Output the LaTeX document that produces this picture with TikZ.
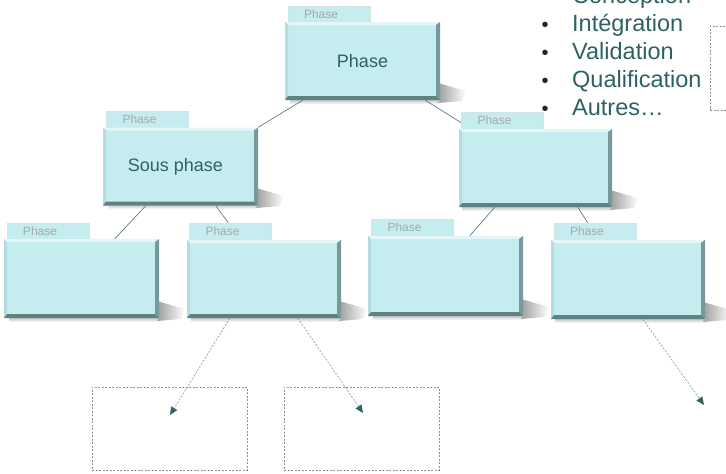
\documentclass[tikz,border=0pt]{standalone}
\usepackage{fontspec}
\setmainfont{Liberation Sans}
\usetikzlibrary{calc,arrows.meta,fadings}
\definecolor{boxfill}{HTML}{C5ECEE}
\definecolor{edgedark}{HTML}{5E8182}
\definecolor{edgeright}{HTML}{769A9B}
\definecolor{toplight}{HTML}{E4F6F7}
\definecolor{leftedge}{HTML}{B3DDE0}
\definecolor{tabline}{HTML}{D3E4E5}
\definecolor{textteal}{HTML}{2E6262}
\definecolor{linecol}{HTML}{5E7E7E}
\definecolor{dashcol}{HTML}{8A9494}
\definecolor{arrowcol}{HTML}{2E6464}
\definecolor{tabtext}{HTML}{A6AAAA}
\tikzset{
  body/.style={rectangle, inner sep=0pt, minimum width=155pt, minimum height=78pt,
    fill=boxfill, text=textteal, font=\fontsize{18}{20}\selectfont,
    path picture={
      \fill[toplight] (path picture bounding box.north west) -- (path picture bounding box.north east)
        -- ([xshift=-4pt,yshift=-3pt]path picture bounding box.north east)
        -- ([xshift=3pt,yshift=-3pt]path picture bounding box.north west) -- cycle;
      \fill[leftedge] (path picture bounding box.north west) -- (path picture bounding box.south west)
        -- ([xshift=3pt,yshift=4pt]path picture bounding box.south west)
        -- ([xshift=3pt,yshift=-3pt]path picture bounding box.north west) -- cycle;
      \fill[edgeright] (path picture bounding box.north east) -- (path picture bounding box.south east)
        -- ([xshift=-4pt,yshift=4pt]path picture bounding box.south east)
        -- ([xshift=-4pt,yshift=-3pt]path picture bounding box.north east) -- cycle;
      \fill[edgedark] (path picture bounding box.south west) -- (path picture bounding box.south east)
        -- ([xshift=-4pt,yshift=4pt]path picture bounding box.south east)
        -- ([xshift=3pt,yshift=4pt]path picture bounding box.south west) -- cycle;
    }},
  tab/.style={rectangle, inner ysep=0pt, inner xsep=16pt, text width=50pt, align=left,
    minimum height=17pt, fill=boxfill, draw=tabline, line width=0.6pt,
    text=tabtext, font=\fontsize{12}{12}\selectfont},
  shade/.style={fill=black!38, path fading=east},
  conn/.style={draw=linecol, line width=0.7pt},
  dashconn/.style={draw=dashcol, line width=0.6pt, dash pattern=on 2pt off 1.5pt,
    -{Triangle[length=8pt,width=7pt,fill=arrowcol,color=arrowcol]}},
  dashbox/.style={draw=dashcol, line width=0.6pt, dash pattern=on 2pt off 1.5pt},
  bullettext/.style={text=textteal, font=\fontsize{23.5}{25}\selectfont, inner sep=0pt},
  bulletdot/.style={text=black!85, font=\fontsize{20}{24}\selectfont, inner sep=0pt}
}
\begin{document}
\begin{tikzpicture}[x=1pt,y=-1pt]
\useasboundingbox (0,0) rectangle (726,474);
\clip (0,0) rectangle (726,474);

% tabs
\node[tab] (At) at (329,14.5) {Phase};
\node[tab] (Bt) at (147.5,119.5) {Phase};
\node[tab] (Ct) at (502.5,120.5) {Phase};
\node[tab] (Dt) at (48,231.5) {Phase};
\node[tab] (Et) at (230.5,231.5) {Phase};
\node[tab] (Ft) at (412.5,227.5) {Phase};
\node[tab] (Gt) at (595,231.5) {Phase};

% shadow anchors (bottom right corners of the boxes)
\coordinate (As) at (440,100);
\coordinate (Bs) at (258,205);
\coordinate (Cs) at (612,207);
\coordinate (Ds) at (159,318);
\coordinate (Es) at (341,318);
\coordinate (Fs) at (523,316);
\coordinate (Gs) at (705,319);
\foreach \s in {As,Bs,Cs,Ds,Es,Fs,Gs}{
  \fill[shade] ($(\s)+(-2,-17)$) -- ($(\s)+(26,-9)$) -- ($(\s)+(22,1)$) -- ($(\s)+(-2,3)$) -- cycle;
  \fill[black!22, path fading=south] ($(\s)+(-150,0)$) rectangle ($(\s)+(0,4)$);
}

\node[body] (A) at (362.5,61) {Phase};
\node[body] (B) at (180.5,166.5) {\raisebox{-2pt}{Sous phase\hspace{10pt}}};
\node[body, minimum width=153pt] (C) at (535.5,168) {};
\node[body, minimum height=79pt] (D) at (81.5,278.5) {};
\node[body, minimum width=154pt] (E) at (264,279) {};
\node[body, minimum height=80pt] (F) at (445.5,276) {};
\node[body, minimum width=154pt, minimum height=79pt] (G) at (628,279.5) {};

% solid connectors
\draw[conn] ($(A.south west)+(18,0)$) -- (B.north east);
\draw[conn] ($(A.south east)+(-15,0)$) -- ($(Ct.north west)+(0,11)$);
\draw[conn] ($(B.south west)+(43,0)$) -- ($(D.north west)+(111,0)$);
\draw[conn] ($(B.south west)+(113,0)$) -- ($(Et.north west)+(39,0)$);
\draw[conn] ($(C.south west)+(36,0)$) -- ($(F.north west)+(102,0)$);
\draw[conn] ($(C.south west)+(119,0)$) -- ($(Gt.north west)+(34,0)$);

% dashed boxes
\node[dashbox, minimum width=155pt, minimum height=83pt, inner sep=0pt] (X1) at (169.5,428.5) {};
\node[dashbox, minimum width=155pt, minimum height=83pt, inner sep=0pt] (X2) at (361.5,428.5) {};
\node[dashbox, minimum width=60pt, minimum height=84pt, inner sep=0pt] (X3) at (740,68) {};

% dashed arrows
\coordinate (T1) at (170,415);
\coordinate (T2) at (363,413);
\coordinate (T3) at (704,405);
\draw[dashconn] ($(E.south west)+(43,0)$) -- (T1);
\draw[dashconn] ($(E.south west)+(111,0)$) -- (T2);
\draw[dashconn] ($(G.south west)+(92,0)$) -- (T3);

% bullet list
\node[bullettext, anchor=base west] (L0) at (572,3) {Conception};
\node[bullettext, anchor=base west] (L1) at (572,31) {Intégration};
\node[bullettext, anchor=base west] (L2) at (572,59) {Validation};
\node[bullettext, anchor=base west] (L3) at (572,87) {Qualification};
\node[bullettext, anchor=base west] (L4) at (572,115) {Autres…};
\foreach \i/\y in {1/31,2/59,3/87,4/115}{
  \node[bulletdot, anchor=base] (b\i) at (545,\y) {•};
}
\end{tikzpicture}
\end{document}
